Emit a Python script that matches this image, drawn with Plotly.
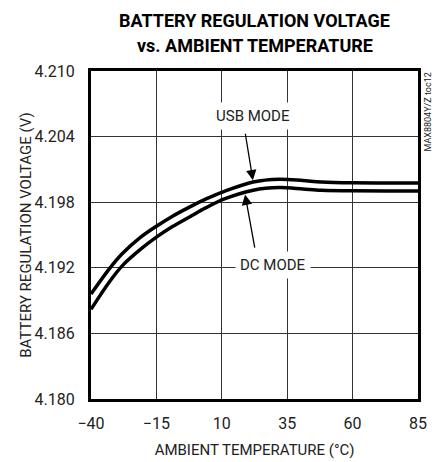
import plotly.graph_objects as go

# ---- data ----
temp_c = [-40, -33, -28, -21, -15, -9, -2, 4, 11, 22, 32, 41, 48, 60, 85]
usb_mode_v = [4.1896, 4.1919, 4.1933, 4.1948, 4.1958, 4.1967, 4.1976, 4.1983, 4.1990,
              4.19985, 4.2001, 4.19998, 4.19985, 4.19977, 4.19976]
dc_mode_v = [4.1882, 4.1907, 4.1922, 4.1937, 4.1948, 4.19575, 4.1967, 4.1975, 4.1983,
             4.1991, 4.19934, 4.19921, 4.1991, 4.19904, 4.19903]

x_ticks = [-40, -15, 10, 35, 60, 85]
y_ticks = [4.180, 4.186, 4.192, 4.198, 4.204, 4.210]
y_tick_labels = ["4.180", "4.186", "4.192", "4.198", "4.204", "4.210"]

title_lines = ["BATTERY REGULATION VOLTAGE", "vs. AMBIENT TEMPERATURE"]
x_title = "AMBIENT TEMPERATURE (°C)"
y_title = "BATTERY REGULATION VOLTAGE (V)"
watermark = "MAX8804Y/Z toc12"

# label / arrow anchors (data coordinates)
usb_label = (21.9, 4.2059)
usb_arrow_tail = (18.9, 4.2044)
usb_arrow_head = (21.9, 4.2000)
dc_label = (29.4, 4.1923)
dc_arrow_tail = (22.7, 4.1937)
dc_arrow_head = (18.9, 4.1987)

FONT = "Liberation Sans Narrow, Arial Narrow, Roboto, sans-serif"
TXT = "#222"

fig = go.Figure()
for vals in (usb_mode_v, dc_mode_v):
    fig.add_trace(go.Scatter(x=temp_c, y=vals, mode="lines",
                             line=dict(color="black", width=3.5, shape="spline", smoothing=0.9),
                             showlegend=False, hoverinfo="skip"))

ann = []
for line_text, shift in zip(title_lines, (51, 26)):
    ann.append(dict(x=0.5, y=1.0, xref="paper", yref="paper", xanchor="center", yanchor="middle",
                    yshift=shift, text=line_text, showarrow=False,
                    font=dict(family=FONT, size=18, color="black", weight="bold")))
ann.append(dict(x=usb_label[0], y=usb_label[1], xref="x", yref="y", text="USB MODE",
                showarrow=False, bgcolor="white", borderpad=4,
                font=dict(family=FONT, size=15, color=TXT)))
ann.append(dict(x=dc_label[0], y=dc_label[1], xref="x", yref="y", text="DC MODE",
                showarrow=False, bgcolor="white", borderpad=4,
                font=dict(family=FONT, size=15, color=TXT)))
for tail, head in [(usb_arrow_tail, usb_arrow_head), (dc_arrow_tail, dc_arrow_head)]:
    ann.append(dict(x=head[0], y=head[1], ax=tail[0], ay=tail[1], xref="x", yref="y",
                    axref="x", ayref="y", text="", showarrow=True,
                    arrowhead=2, arrowsize=1.6, arrowwidth=1.3, arrowcolor="black"))
ann.append(dict(x=1.0, y=1.0, xref="paper", yref="paper", xanchor="left", yanchor="top",
                xshift=2, yshift=0, text=watermark, textangle=-90, showarrow=False,
                font=dict(family=FONT, size=9, color=TXT)))

fig.update_layout(
    width=442, height=462,
    margin=dict(l=91, r=24, t=71, b=63),
    paper_bgcolor="white", plot_bgcolor="white",
    annotations=ann,
    xaxis=dict(range=[-40, 85], tickvals=x_ticks, ticks="", showgrid=True, automargin=False,
               gridcolor="#333", gridwidth=1, zeroline=False,
               showline=True, linecolor="black", linewidth=3, mirror=True,
               tickfont=dict(family=FONT, size=16, color=TXT), ticklabelstandoff=8,
               title=dict(text=x_title, font=dict(family=FONT, size=15, color=TXT), standoff=13)),
    yaxis=dict(range=[4.180, 4.210], tickvals=y_ticks, ticktext=y_tick_labels, ticks="",
               showgrid=True, gridcolor="#333", gridwidth=1, zeroline=False, automargin=False,
               showline=True, linecolor="black", linewidth=3, mirror=True,
               tickfont=dict(family=FONT, size=16, color=TXT), ticklabelstandoff=10,
               title=dict(text=y_title, font=dict(family=FONT, size=15, color=TXT), standoff=0)),
)

fig.write_html("out.html", config={"displayModeBar": False},
               post_script="document.body.style.margin='0';")
